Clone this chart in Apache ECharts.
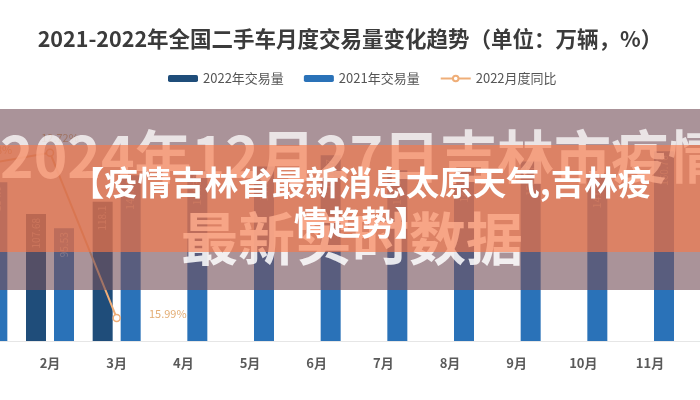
<!DOCTYPE html>
<html>
<head>
<meta charset="utf-8">
<script src="https://cdn.jsdelivr.net/npm/echarts@6/dist/echarts.min.js"></script>
<style>html,body{margin:0;padding:0;background:#fff}#c{width:700px;height:400px}</style>
</head>
<body>
<div id="c"></div>
<script>
var months = ['1月','2月','3月','4月','5月','6月','7月','8月','9月','10月','11月','12月'];
var sales2022 = [148.98, 107.68, 118.10, null, null, null, null, null, null, null, null, null];
var sales2021 = [134.60, 95.53, 140.56, 144.33, 147.84, 157.37, 144.61, 146.71, 152.07, 141.84, 160.76, 170.32];
var yoy2022 = [10.68, 12.72, -15.99, null, null, null, null, null, null, null, null, null];
var chartTitle = '2021-2022年全国二手车月度交易量变化趋势（单位：万辆，%）';
var bannerTitle = '【疫情吉林省最新消息太原天气,吉林疫\n情趋势】';
var watermark1 = '2024年12月27日吉林市疫情';
var watermark2 = '最新实时数据';

var FONT = '"Noto Sans CJK SC", "Noto Sans", sans-serif';
var chart = echarts.init(document.getElementById('c'));
var barLabel = {
  show: true, position: 'insideTop', rotate: 90, align: 'right', verticalAlign: 'middle',
  distance: 4, fontSize: 10, color: 'rgba(255,255,255,0.5)', fontFamily: FONT
};
chart.setOption({
  backgroundColor: '#ffffff',
  animation: false,
  title: {
    text: chartTitle, left: 'center', top: 23,
    textStyle: {fontFamily: FONT, fontSize: 21.5, fontWeight: 'bold', color: '#3b3b3b'}
  },
  legend: {
    top: 67, left: 163, itemWidth: 30, itemHeight: 7, itemGap: 20,
    textStyle: {fontFamily: FONT, fontSize: 13, color: '#555'},
    data: ['2022年交易量', '2021年交易量', '2022月度同比']
  },
  grid: {left: -50, right: -50, top: 105, bottom: 59, containLabel: false, outerBoundsMode: 'none'},
  xAxis: {
    type: 'category', data: months,
    axisLine: {lineStyle: {color: '#e6e6e6'}},
    axisTick: {show: false},
    axisLabel: {margin: 16, fontFamily: FONT, fontSize: 13, fontWeight: 'bold', color: '#5a5a5a'}
  },
  yAxis: [
    {type: 'value', min: 0, max: 200, show: false, splitLine: {show: false}},
    {type: 'value', min: -20, max: 21, show: false, splitLine: {show: false}}
  ],
  series: [
    {name: '2022年交易量', type: 'bar', data: sales2022, barWidth: 20, barGap: '40%',
     itemStyle: {color: '#1f4d7a'}, label: barLabel},
    {name: '2021年交易量', type: 'bar', data: sales2021, barWidth: 20,
     itemStyle: {color: '#2a72b8'}, label: barLabel},
    {name: '2022月度同比', type: 'line', yAxisIndex: 1,
     symbol: 'circle', symbolSize: 7,
     lineStyle: {color: '#efae78', width: 2},
     itemStyle: {color: '#ffffff', borderColor: '#efae78', borderWidth: 1.5},
     label: {show: true, fontSize: 11, color: '#e3ad74', fontFamily: FONT,
       formatter: function (p) { return Math.abs(p.value).toFixed(2) + '%'; },
       position: 'top'},
     data: yoy2022.map(function (v) {
       if (v === null) return null;
       if (v < 0) return {value: v, label: {position: 'right', distance: 28, offset: [0, -4]}};
       return {value: v, label: {position: 'top', offset: [10, 0]}};
     }),
     z: 5}
  ],
  graphic: [
    {type: 'rect', z: 100, shape: {x: 0, y: 109, width: 700, height: 181},
     style: {fill: 'rgba(118,80,90,0.62)'}},
    {type: 'text', z: 101, x: 0, y: 185,
     style: {text: watermark1, font: 'bold 57px ' + FONT, fill: 'rgba(255,255,255,0.75)',
       textVerticalAlign: 'bottom'}},
    {type: 'text', z: 101, x: 352, y: 267,
     style: {text: watermark2, font: 'bold 57px ' + FONT, fill: 'rgba(255,255,255,0.85)',
       textAlign: 'center', textVerticalAlign: 'bottom'}},
    {type: 'rect', z: 102, shape: {x: 0, y: 145, width: 700, height: 107},
     style: {fill: 'rgba(250,120,70,0.62)'}},
    {type: 'text', z: 103, x: 361, y: 162,
     style: {text: bannerTitle, font: 'bold 33.5px ' + FONT, fill: '#ffffff',
       textAlign: 'center', lineHeight: 40}}
  ]
});
</script>
</body>
</html>
